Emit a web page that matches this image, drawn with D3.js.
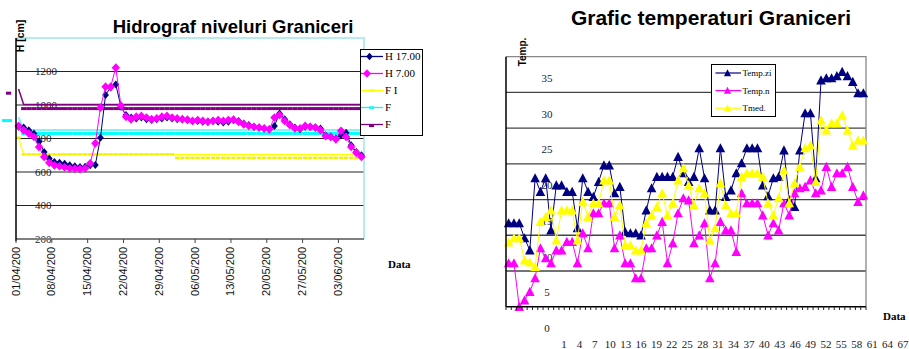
<!DOCTYPE html>
<html>
<head>
<meta charset="utf-8">
<script src="https://cdn.jsdelivr.net/npm/d3@7"></script>
<style>
  body { margin: 0; background: #fff; }
  svg { display: block; }
  .sans { font-family: "Liberation Sans", Arial, sans-serif; }
  .serif { font-family: "Liberation Serif", "Times New Roman", serif; }
</style>
</head>
<body>
<svg id="viz" width="909" height="349"></svg>
<script>
// ---------- hidrograf data (daily, 01/04 -> 07/06)
var h17 = [870,865,850,830,780,720,680,660,655,650,640,635,630,632,640,642,805,1060,1105,1123,
           990,940,925,920,925,915,910,915,920,925,920,915,915,910,905,905,900,900,905,900,
           895,900,910,905,890,880,870,865,860,855,875,950,915,885,865,855,870,870,865,860,
           820,810,800,820,835,760,720,700];
var h7 = [875,850,830,810,750,690,655,640,635,628,622,620,618,622,652,771,984,1109,1109,1223,
          996,930,915,930,935,925,915,920,930,935,925,920,915,912,905,910,905,900,905,910,
          905,910,912,900,885,875,870,865,860,855,925,940,905,880,860,860,875,870,865,850,
          815,810,795,846,810,750,715,690];
var fI = [805,705,705,705,705,705,705,705,705,705,705,705,705,705,705,705,705,705,705,705,
          705,705,705,705,705,705,705,705,705,705,705,705,705,705,705,705,705,705,705,705,
          705,705,705,705,705,705,705,705,705,705,705,705,705,705,705,705,705,705,705,705,
          705,705,705,705,705,705,705,705];
var fCyan = [928,851,851,851,851,851,851,851,851,851,851,851,851,851,851,851,851,851,851,851,
             851,851,851,851,851,851,851,851,851,851,851,851,851,851,851,851,851,851,851,851,
             851,851,851,851,851,851,851,851,851,851,851,851,851,851,851,851,851,851,851,851,
             851,851,851,851,851,851,851,851];
var fPurple = [1095,1003,1003,1003,1003,1003,1003,1003,1003,1003,1003,1003,1003,1003,1003,1003,1003,1003,1003,1003,
               1003,1003,1003,1003,1003,1003,1003,1003,1003,1003,1003,1003,1003,1003,1003,1003,1003,1003,1003,1003,
               1003,1003,1003,1003,1003,1003,1003,1003,1003,1003,1003,1003,1003,1003,1003,1003,1003,1003,1003,1003,
               1003,1003,1003,1003,1003,1003,1003,1003];
var dateLabels = ["01/04/200","08/04/200","15/04/200","22/04/200","29/04/200",
                  "06/05/200","13/05/200","20/05/200","27/05/200","03/06/200"];
var hTicks = [200,400,600,800,1000,1200];

// ---------- temperature data
var tempZi = [11.7,11.7,11.7,9.6,7.9,18.0,16.1,18.0,10.7,17.0,17.0,16.1,16.1,11.0,18.0,16.1,15.4,17.5,19.8,19.8,
              15.9,16.8,10.5,10.3,10.3,10.0,13.5,16.6,18.2,18.2,18.2,18.2,21.0,18.7,17.5,18.2,22.2,18.0,13.5,13.5,
              22.2,15.4,16.3,18.7,20.1,22.2,22.2,22.2,17.0,15.5,18.0,18.2,21.9,14.9,14.0,21.9,27.1,27.1,18.0,31.7,
              32.0,32.0,32.3,32.9,32.3,31.5,29.9,29.9];
var tempN = [6.1,6.1,0.0,0.9,2.1,4.0,8.2,6.8,6.1,7.9,7.9,9.1,9.1,6.1,10.3,8.2,13.1,13.1,14.5,14.5,
             8.2,10.0,6.1,6.1,4.0,4.0,8.2,8.2,10.0,11.9,6.1,8.9,13.1,15.2,14.9,8.9,10.0,11.7,4.0,6.1,
             11.9,10.7,10.7,7.7,15.9,14.5,14.5,14.5,12.8,10.0,11.7,10.7,14.5,12.8,15.9,16.6,16.8,17.7,15.9,16.3,
             19.6,16.8,18.7,18.7,19.6,16.8,14.7,15.6];
var tMed = [9.0,9.6,9.6,6.5,6.2,5.6,11.9,12.6,13.5,9.3,13.5,13.5,13.5,9.3,14.7,12.6,14.5,14.5,17.7,17.7,
            12.6,14.2,8.6,8.6,7.9,7.9,11.7,12.8,14.0,15.9,12.8,14.5,17.7,19.4,17.0,14.2,16.6,15.9,9.3,11.0,
            17.3,14.2,13.1,13.1,18.2,18.7,18.7,18.7,18.2,14.5,12.8,15.2,19.1,14.5,17.3,19.6,22.2,22.6,17.5,26.1,
            24.7,25.7,25.7,26.8,24.7,22.6,23.3,23.3];
var tTicks = [0,5,10,15,20,25,30,35];
var dayLabels = [1,4,7,10,13,16,19,22,25,28,31,34,37,40,43,46,49,52,55,58,61,64,67];

var svg = d3.select("#viz");
var diamond = function(w, h){ return "M0," + (-h) + "L" + w + ",0L0," + h + "L" + (-w) + ",0Z"; };
var triangle = "M0,-5L4.8,4.2L-4.8,4.2Z";

// ================= Hidrograf niveluri Graniceri
function hidrograf(){
  var x = d3.scaleLinear().domain([0, h17.length]).range([16, 364])
    , y = d3.scaleLinear().domain([200, 1400]).range([239, 38])
    , g = svg.append("g").attr("class", "hidrograf");
  var px = function(d, i){ return x(i + 0.5); };

  // grid
  g.selectAll("line.grid").data(hTicks.filter(function(d){ return d > 200; }))
    .enter().append("line").attr("class", "grid")
      .attr("x1", 16).attr("x2", 364)
      .attr("y1", function(d){ return y(d); }).attr("y2", function(d){ return y(d); })
      .attr("stroke", "#222").attr("stroke-width", 1.2);

  // plot border (top / right)
  g.append("path").attr("d", "M16," + y(1400) + "H364V239")
    .attr("fill", "none").attr("stroke", "#9ee6ea").attr("stroke-width", 1.5);

  // y labels sit inside the plot
  g.selectAll("text.ylab").data(hTicks).enter().append("text")
    .attr("class", "ylab serif")
    .attr("x", 35).attr("y", function(d){ return y(d); }).attr("dy", "0.35em")
    .attr("font-size", 11).attr("fill", "#222")
    .text(function(d){ return d; });

  // threshold series
  var line = d3.line().x(px).y(function(d){ return y(d); });
  g.append("path").datum(fPurple).attr("d", line)
    .attr("fill", "none").attr("stroke", "#800080").attr("stroke-width", 1.5);
  g.selectAll("rect.mp").data(fPurple).enter().append("rect").attr("class", "mp")
    .attr("x", function(d, i){ return px(d, i) - 2.6 - (i === 0 ? 10 : 0); })
    .attr("y", function(d){ return y(d) + 2.6; })
    .attr("width", 5.3).attr("height", 3).attr("fill", "#800080");

  g.append("path").datum(fCyan).attr("d", line)
    .attr("fill", "none").attr("stroke", "#7ff4f4").attr("stroke-width", 2);
  g.selectAll("rect.mc").data(fCyan).enter().append("rect").attr("class", "mc")
    .attr("x", function(d, i){ return px(d, i) - 2.6 - (i === 0 ? 14 : 0); })
    .attr("y", function(d){ return y(d) + 2; })
    .attr("width", function(d, i){ return i === 0 ? 10 : 5.3; }).attr("height", 3).attr("fill", "#00ffff");

  g.append("path").datum(fI).attr("d", line)
    .attr("fill", "none").attr("stroke", "#ffff00").attr("stroke-width", 1.2);
  g.selectAll("rect.my").data(fI).enter().append("rect").attr("class", "my")
    .attr("x", function(d, i){ return px(d, i) - 2.2; })
    .attr("y", function(d, i){ return y(d) - 1.2 + (i > 30 ? 3.4 : 0); })
    .attr("width", 4.3).attr("height", 2.4).attr("fill", "#f2f200");

  // levels
  g.append("path").datum(h17).attr("d", line)
    .attr("fill", "none").attr("stroke", "#000080").attr("stroke-width", 1);
  g.selectAll("path.d17").data(h17).enter().append("path").attr("class", "d17")
    .attr("d", diamond(3.4, 4))
    .attr("transform", function(d, i){ return "translate(" + px(d, i) + "," + y(d) + ")"; })
    .attr("fill", "#000080");
  g.append("path").datum(h7).attr("d", line)
    .attr("fill", "none").attr("stroke", "#ff00ff").attr("stroke-width", 1);
  g.selectAll("path.d7").data(h7).enter().append("path").attr("class", "d7")
    .attr("d", diamond(4.2, 4.4))
    .attr("transform", function(d, i){ return "translate(" + px(d, i) + "," + y(d) + ")"; })
    .attr("fill", "#ff00ff");

  // axes
  g.append("line").attr("x1", 16).attr("x2", 364).attr("y1", 239).attr("y2", 239)
    .attr("stroke", "#808080").attr("stroke-width", 2);
  g.append("line").attr("x1", 16).attr("x2", 16).attr("y1", 38).attr("y2", 241)
    .attr("stroke", "#000").attr("stroke-width", 1.5);
  var weeks = dateLabels.map(function(d, i){ return i * 7; });
  g.selectAll("line.xt").data(weeks).enter().append("line").attr("class", "xt")
    .attr("x1", function(d){ return x(d); }).attr("x2", function(d){ return x(d); })
    .attr("y1", 239).attr("y2", 243).attr("stroke", "#444");
  g.selectAll("text.xlab").data(weeks).enter().append("text")
    .attr("class", "xlab sans").attr("font-size", 11).attr("fill", "#111")
    .attr("text-anchor", "end")
    .attr("transform", function(d){ return "translate(" + (x(d) + 3.5) + ",247) rotate(-90)"; })
    .text(function(d, i){ return dateLabels[i]; });

  // titles
  g.append("text").attr("class", "sans").attr("x", 233).attr("y", 33)
    .attr("text-anchor", "middle").attr("font-size", 18.5).attr("font-weight", "bold")
    .text("Hidrograf niveluri Graniceri");
  g.append("text").attr("class", "sans").attr("font-size", 10.5).attr("font-weight", "bold")
    .attr("text-anchor", "middle")
    .attr("transform", "translate(23.5,36) rotate(-90)").text("H [cm]");
  g.append("text").attr("class", "serif").attr("x", 388).attr("y", 267.5)
    .attr("font-size", 11).attr("font-weight", "bold").text("Data");

  // legend
  var leg = [
    {name: "H 17.00", color: "#000080", mark: "d17"},
    {name: "H 7.00", color: "#ff00ff", mark: "d7"},
    {name: "F I", color: "#ffff00", mark: "r"},
    {name: "F", color: "#00ffff", mark: "r"},
    {name: "F", color: "#800080", mark: "r"}
  ];
  var lg = g.append("g");
  lg.append("rect").attr("x", 360.5).attr("y", 49.5).attr("width", 62).attr("height", 86)
    .attr("fill", "#fff").attr("stroke", "#000");
  var item = lg.selectAll("g").data(leg).enter().append("g")
    .attr("transform", function(d, i){ return "translate(0," + (56.5 + i * 17) + ")"; });
  item.append("line").attr("x1", 361).attr("x2", 383).attr("y1", 0).attr("y2", 0)
    .attr("stroke", function(d){ return d.color; }).attr("stroke-width", 1.3);
  item.filter(function(d){ return d.mark !== "r"; }).append("path")
    .attr("d", function(d){ return d.mark === "d7" ? diamond(4, 4.2) : diamond(3.3, 3.8); })
    .attr("transform", function(d){ return "translate(" + (d.mark === "d7" ? 367 : 369.5) + ",0)"; })
    .attr("fill", function(d){ return d.color; });
  item.filter(function(d){ return d.mark === "r"; }).append("rect")
    .attr("x", 369).attr("y", function(d, i){ return i === 2 ? 0 : -1.2; })
    .attr("width", 5).attr("height", 2.6).attr("fill", function(d){ return d.color; });
  item.append("text").attr("class", "serif").attr("x", 385).attr("dy", "0.35em")
    .attr("font-size", 11).text(function(d){ return d.name; });
}

// ================= Grafic temperaturi Graniceri
function temperaturi(){
  var x = d3.scaleBand().domain(d3.range(tempZi.length)).range([506, 866])
    , y = d3.scaleLinear().domain([0, 35]).range([306.7, 56.7])
    , labelX = d3.scaleLinear().domain([1, 67]).range([564, 903])
    , g = svg.append("g").attr("class", "temperaturi");
  var px = function(d, i){ return x(i) + x.bandwidth() / 2; };

  g.selectAll("line.grid").data(tTicks.filter(function(d){ return d > 0 && d < 35; }))
    .enter().append("line").attr("class", "grid")
      .attr("x1", 506).attr("x2", 866)
      .attr("y1", function(d){ return y(d); }).attr("y2", function(d){ return y(d); })
      .attr("stroke", "#444").attr("stroke-width", 1.3);
  g.append("path").attr("d", "M506," + y(35) + "H866V306.7")
    .attr("fill", "none").attr("stroke", "#888").attr("stroke-width", 1.3);

  // y labels, drawn lower than their grid lines as in the source
  g.selectAll("text.ylab").data(tTicks).enter().append("text")
    .attr("class", "ylab serif").attr("x", 547)
    .attr("y", function(d){ return y(d) + 21.5; }).attr("dy", "0.35em")
    .attr("text-anchor", "middle").attr("font-size", 11).attr("fill", "#222")
    .text(function(d){ return d; });

  var line = d3.line().x(px).y(function(d){ return y(d); });
  var series = [
    {name: "Temp.zi", values: tempZi, color: "#000080"},
    {name: "Temp.n", values: tempN, color: "#ff00ff"},
    {name: "Tmed.", values: tMed, color: "#ffff00"}
  ];
  series.forEach(function(s){
    g.append("path").datum(s.values).attr("d", line)
      .attr("fill", "none").attr("stroke", s.color).attr("stroke-width", 1);
    g.selectAll(null).data(s.values).enter().append("path")
      .attr("d", triangle)
      .attr("transform", function(d, i){ return "translate(" + px(d, i) + "," + y(d) + ")"; })
      .attr("fill", s.color);
  });

  // axes
  g.append("line").attr("x1", 506).attr("x2", 506).attr("y1", 56.7).attr("y2", 307)
    .attr("stroke", "#000").attr("stroke-width", 1.5);
  g.append("line").attr("x1", 506).attr("x2", 866).attr("y1", 306.7).attr("y2", 306.7)
    .attr("stroke", "#000").attr("stroke-width", 1.5);
  g.selectAll("line.xt").data(d3.range(tempZi.length + 1)).enter().append("line")
    .attr("class", "xt")
    .attr("x1", function(d){ return 506 + d * x.step(); })
    .attr("x2", function(d){ return 506 + d * x.step(); })
    .attr("y1", 306.7).attr("y2", 310).attr("stroke", "#222");
  g.selectAll("text.xlab").data(dayLabels).enter().append("text")
    .attr("class", "xlab serif").attr("x", function(d){ return labelX(d); })
    .attr("y", 347.5).attr("text-anchor", "middle").attr("font-size", 11).attr("fill", "#222")
    .text(function(d){ return d; });

  g.append("text").attr("class", "sans").attr("x", 711).attr("y", 25)
    .attr("text-anchor", "middle").attr("font-size", 21).attr("font-weight", "bold")
    .text("Grafic temperaturi Graniceri");
  g.append("text").attr("class", "sans").attr("font-size", 10).attr("font-weight", "bold")
    .attr("text-anchor", "middle")
    .attr("transform", "translate(525.5,52) rotate(-90)").text("Temp.");
  g.append("text").attr("class", "serif").attr("x", 883).attr("y", 319.5)
    .attr("font-size", 11).attr("font-weight", "bold").text("Data");

  // legend
  var lg = g.append("g");
  lg.append("rect").attr("x", 711.5).attr("y", 64.5).attr("width", 64).attr("height", 52)
    .attr("fill", "#fff").attr("stroke", "#000");
  var item = lg.selectAll("g").data(series).enter().append("g")
    .attr("transform", function(d, i){ return "translate(0," + (73 + i * 17.6) + ")"; });
  item.append("line").attr("x1", 715.5).attr("x2", 741).attr("y1", 0).attr("y2", 0)
    .attr("stroke", function(d){ return d.color; }).attr("stroke-width", 1.2);
  item.append("path").attr("d", "M0,-3.8L3.6,3.2L-3.6,3.2Z")
    .attr("transform", "translate(727.5,0)").attr("fill", function(d){ return d.color; });
  item.append("text").attr("class", "serif").attr("x", 742.5).attr("dy", "0.35em")
    .attr("font-size", 9).text(function(d){ return d.name; });
}

hidrograf();
temperaturi();
</script>
</body>
</html>
